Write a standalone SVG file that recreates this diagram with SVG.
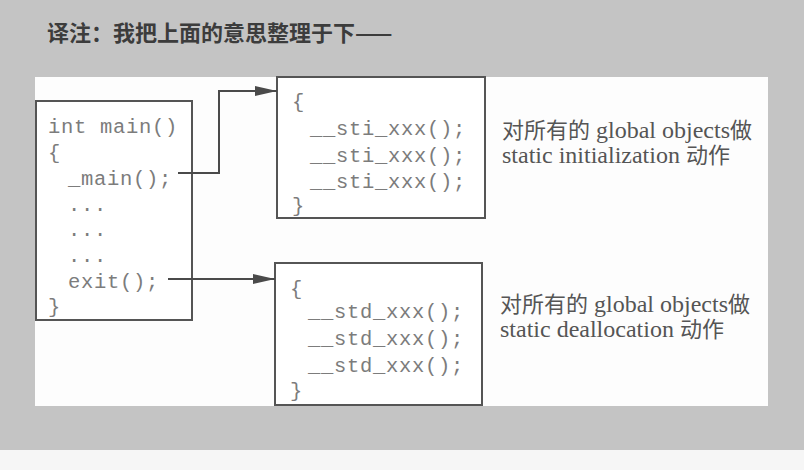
<svg xmlns="http://www.w3.org/2000/svg" width="804" height="470" viewBox="0 0 804 470">
  <defs>
    <marker id="arrow" markerUnits="userSpaceOnUse" markerWidth="24" markerHeight="12" refX="22" refY="6" orient="auto">
      <path d="M0,1 L22,6 L0,11 Z" fill="#4a4a4a"/>
    </marker>
  </defs>
  <style>
    .box { fill: #ffffff; stroke: #555555; stroke-width: 2; }
    .code { font-family: "Liberation Mono", "DejaVu Sans Mono", monospace; font-size: 20.5px; letter-spacing: 0.7px; fill: #7c7c7c; }
    .note { font-family: "Liberation Serif", "Noto Sans CJK SC", serif; font-size: 24px; fill: #555555; }
    .cjk { font-size: 22px; }
    .title { font-family: "Noto Sans CJK SC", sans-serif; font-size: 22px; font-weight: bold; fill: #3c3c3c; }
    .conn { fill: none; stroke: #4a4a4a; stroke-width: 2; }
  </style>

  <rect x="0" y="0" width="804" height="450" fill="#c4c4c4"/>
  <rect x="0" y="450" width="804" height="20" fill="#f6f6f6"/>
  <rect x="35" y="77" width="733" height="329" fill="#fdfdfd"/>

  <text class="title" x="47" y="41">译注：我把上面的意思整理于下——</text>

  <g id="main-box">
    <rect class="box" x="36" y="101" width="156" height="219"/>
    <text class="code" x="48" y="133">int main()</text>
    <text class="code" x="48" y="159">{</text>
    <text class="code" x="68" y="185">_main();</text>
    <text class="code" x="68" y="211">...</text>
    <text class="code" x="68" y="236">...</text>
    <text class="code" x="68" y="262">...</text>
    <text class="code" x="68" y="288">exit();</text>
    <text class="code" x="48" y="313">}</text>
  </g>

  <g id="sti-box">
    <rect class="box" x="277" y="77" width="208" height="141"/>
    <text class="code" x="292" y="108">{</text>
    <text class="code" x="310" y="135">__sti_xxx();</text>
    <text class="code" x="310" y="162">__sti_xxx();</text>
    <text class="code" x="310" y="188">__sti_xxx();</text>
    <text class="code" x="292" y="212">}</text>
  </g>

  <g id="std-box">
    <rect class="box" x="275" y="263" width="207" height="142"/>
    <text class="code" x="290" y="295">{</text>
    <text class="code" x="308" y="318">__std_xxx();</text>
    <text class="code" x="308" y="345">__std_xxx();</text>
    <text class="code" x="308" y="372">__std_xxx();</text>
    <text class="code" x="290" y="397">}</text>
  </g>

  <g id="sti-note">
    <text class="note" x="502" y="138"><tspan class="cjk">对所有的</tspan> global objects<tspan class="cjk">做</tspan></text>
    <text class="note" x="502" y="163">static initialization <tspan class="cjk">动作</tspan></text>
  </g>

  <g id="std-note">
    <text class="note" x="500" y="312"><tspan class="cjk">对所有的</tspan> global objects<tspan class="cjk">做</tspan></text>
    <text class="note" x="500" y="337">static deallocation <tspan class="cjk">动作</tspan></text>
  </g>

  <g id="connectors">
    <path class="conn" d="M178,173 H219 V91 H277" marker-end="url(#arrow)"/>
    <path class="conn" d="M168,279 H275" marker-end="url(#arrow)"/>
  </g>
</svg>
